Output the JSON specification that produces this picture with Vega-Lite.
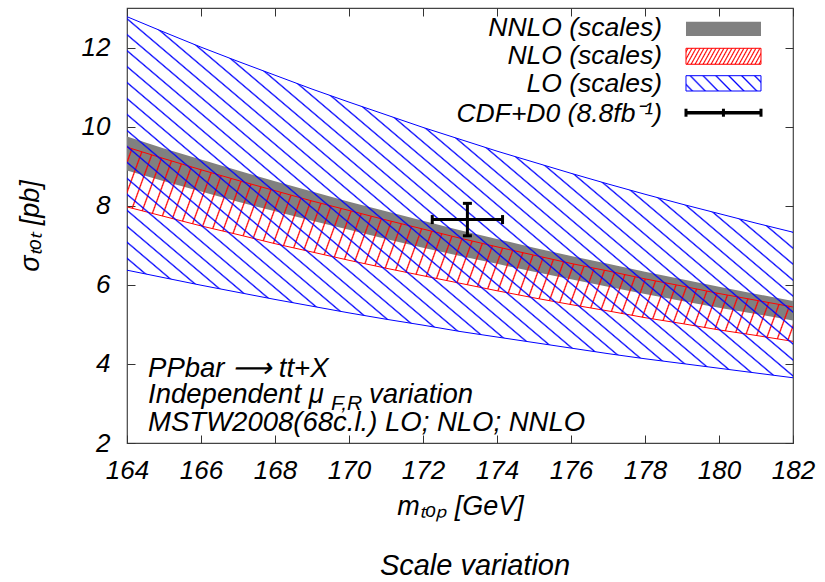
{
  "$schema": "https://vega.github.io/schema/vega-lite/v6.json",
  "width": 666,
  "height": 435,
  "autosize": {"type": "none"},
  "padding": {"left": 127, "top": 8, "right": 32, "bottom": 139},
  "background": "white",
  "title": {"text": "Scale variation", "orient": "bottom", "anchor": "middle", "frame": "group", "fontSize": 29, "font": "Liberation Sans", "fontStyle": "italic", "fontWeight": "normal", "color": "black", "offset": 33, "dx": 15},
  "config": {
    "font": "Liberation Sans",
    "view": {"stroke": "#444", "strokeWidth": 1.2},
    "axis": {"grid": false, "domain": false, "tickSize": -8, "tickColor": "#333", "tickWidth": 1, "labelFlush": false, "labelOverlap": false, "labelFont": "Liberation Sans", "labelFontSize": 26, "labelFontStyle": "italic", "labelColor": "black", "titleFont": "Liberation Sans", "titleFontSize": 27, "titleFontStyle": "italic", "titleFontWeight": "normal", "titleColor": "black"}
  },
  "datasets": {
    "bands": [
      {"band": "LO", "m": 164, "lo": 6.37, "hi": 12.78}, {"band": "LO", "m": 165, "lo": 6.18, "hi": 12.39}, {"band": "LO", "m": 166, "lo": 5.99, "hi": 12.01}, {"band": "LO", "m": 167, "lo": 5.81, "hi": 11.65}, {"band": "LO", "m": 168, "lo": 5.63, "hi": 11.30}, {"band": "LO", "m": 169, "lo": 5.46, "hi": 10.95}, {"band": "LO", "m": 170, "lo": 5.29, "hi": 10.62}, {"band": "LO", "m": 171, "lo": 5.13, "hi": 10.30}, {"band": "LO", "m": 172, "lo": 4.98, "hi": 9.98}, {"band": "LO", "m": 173, "lo": 4.82, "hi": 9.68}, {"band": "LO", "m": 174, "lo": 4.68, "hi": 9.38}, {"band": "LO", "m": 175, "lo": 4.54, "hi": 9.10}, {"band": "LO", "m": 176, "lo": 4.40, "hi": 8.82}, {"band": "LO", "m": 177, "lo": 4.26, "hi": 8.55}, {"band": "LO", "m": 178, "lo": 4.13, "hi": 8.29}, {"band": "LO", "m": 179, "lo": 4.01, "hi": 8.04}, {"band": "LO", "m": 180, "lo": 3.89, "hi": 7.80}, {"band": "LO", "m": 181, "lo": 3.77, "hi": 7.56}, {"band": "LO", "m": 182, "lo": 3.65, "hi": 7.33},
      {"band": "NLO", "m": 164, "lo": 7.97, "hi": 9.48}, {"band": "NLO", "m": 165, "lo": 7.73, "hi": 9.19}, {"band": "NLO", "m": 166, "lo": 7.49, "hi": 8.91}, {"band": "NLO", "m": 167, "lo": 7.27, "hi": 8.64}, {"band": "NLO", "m": 168, "lo": 7.04, "hi": 8.38}, {"band": "NLO", "m": 169, "lo": 6.83, "hi": 8.12}, {"band": "NLO", "m": 170, "lo": 6.62, "hi": 7.88}, {"band": "NLO", "m": 171, "lo": 6.42, "hi": 7.64}, {"band": "NLO", "m": 172, "lo": 6.23, "hi": 7.41}, {"band": "NLO", "m": 173, "lo": 6.04, "hi": 7.18}, {"band": "NLO", "m": 174, "lo": 5.85, "hi": 6.96}, {"band": "NLO", "m": 175, "lo": 5.67, "hi": 6.75}, {"band": "NLO", "m": 176, "lo": 5.50, "hi": 6.54}, {"band": "NLO", "m": 177, "lo": 5.34, "hi": 6.35}, {"band": "NLO", "m": 178, "lo": 5.17, "hi": 6.15}, {"band": "NLO", "m": 179, "lo": 5.02, "hi": 5.97}, {"band": "NLO", "m": 180, "lo": 4.86, "hi": 5.78}, {"band": "NLO", "m": 181, "lo": 4.72, "hi": 5.61}, {"band": "NLO", "m": 182, "lo": 4.57, "hi": 5.44},
      {"band": "NNLO", "m": 164, "lo": 8.89, "hi": 9.75}, {"band": "NNLO", "m": 165, "lo": 8.62, "hi": 9.45}, {"band": "NNLO", "m": 166, "lo": 8.36, "hi": 9.17}, {"band": "NNLO", "m": 167, "lo": 8.10, "hi": 8.89}, {"band": "NNLO", "m": 168, "lo": 7.86, "hi": 8.62}, {"band": "NNLO", "m": 169, "lo": 7.62, "hi": 8.36}, {"band": "NNLO", "m": 170, "lo": 7.39, "hi": 8.10}, {"band": "NNLO", "m": 171, "lo": 7.16, "hi": 7.86}, {"band": "NNLO", "m": 172, "lo": 6.94, "hi": 7.62}, {"band": "NNLO", "m": 173, "lo": 6.73, "hi": 7.38}, {"band": "NNLO", "m": 174, "lo": 6.53, "hi": 7.16}, {"band": "NNLO", "m": 175, "lo": 6.33, "hi": 6.94}, {"band": "NNLO", "m": 176, "lo": 6.14, "hi": 6.73}, {"band": "NNLO", "m": 177, "lo": 5.95, "hi": 6.53}, {"band": "NNLO", "m": 178, "lo": 5.77, "hi": 6.33}, {"band": "NNLO", "m": 179, "lo": 5.59, "hi": 6.14}, {"band": "NNLO", "m": 180, "lo": 5.42, "hi": 5.95}, {"band": "NNLO", "m": 181, "lo": 5.26, "hi": 5.77}, {"band": "NNLO", "m": 182, "lo": 5.10, "hi": 5.59}
    ],
    "cdf": [{"m": 173.2, "mlo": 172.25, "mhi": 174.15, "s": 7.65, "slo": 7.24, "shi": 8.06}]
  },
  "resolve": {"axis": {"x": "independent", "y": "independent"}},
  "layer": [
    {
      "data": {"name": "bands"},
      "transform": [{"filter": "datum.band === 'NNLO'"}],
      "mark": {"type": "area", "fill": "#808080", "opacity": 1},
      "encoding": {
        "x": {"field": "m", "type": "quantitative", "scale": {"domain": [164, 182], "nice": false, "zero": false},
              "axis": {"orient": "bottom", "values": [164, 166, 168, 170, 172, 174, 176, 178, 180, 182], "labelPadding": 22, "title": "mₜₒₚ [GeV]", "titlePadding": 10}},
        "y": {"field": "hi", "type": "quantitative", "scale": {"domain": [2, 13], "nice": false, "zero": false},
              "axis": {"orient": "left", "values": [2, 4, 6, 8, 10, 12], "labelPadding": 25, "title": "σₜₒₜ [pb]", "titlePadding": 37}},
        "y2": {"field": "lo"}
      }
    },
    {
      "data": {"name": "bands"},
      "transform": [{"filter": "datum.band === 'NLO'"}],
      "mark": {"type": "area", "opacity": 1, "fill": {"gradient": "linear", "x1": 0, "y1": 0, "x2": 1.094, "y2": 0.1165, "stops": [
        {"offset": 0.0057, "color": "#f000"}, {"offset": 0.0075, "color": "#f00"}, {"offset": 0.0093, "color": "#f000"},
        {"offset": 0.0206, "color": "#f000"}, {"offset": 0.0224, "color": "#f00"}, {"offset": 0.0242, "color": "#f000"},
        {"offset": 0.0355, "color": "#f000"}, {"offset": 0.0373, "color": "#f00"}, {"offset": 0.0391, "color": "#f000"},
        {"offset": 0.0504, "color": "#f000"}, {"offset": 0.0522, "color": "#f00"}, {"offset": 0.0540, "color": "#f000"},
        {"offset": 0.0654, "color": "#f000"}, {"offset": 0.0672, "color": "#f00"}, {"offset": 0.0690, "color": "#f000"},
        {"offset": 0.0803, "color": "#f000"}, {"offset": 0.0821, "color": "#f00"}, {"offset": 0.0839, "color": "#f000"},
        {"offset": 0.0952, "color": "#f000"}, {"offset": 0.0970, "color": "#f00"}, {"offset": 0.0988, "color": "#f000"},
        {"offset": 0.1101, "color": "#f000"}, {"offset": 0.1119, "color": "#f00"}, {"offset": 0.1137, "color": "#f000"},
        {"offset": 0.1251, "color": "#f000"}, {"offset": 0.1269, "color": "#f00"}, {"offset": 0.1287, "color": "#f000"},
        {"offset": 0.1400, "color": "#f000"}, {"offset": 0.1418, "color": "#f00"}, {"offset": 0.1436, "color": "#f000"},
        {"offset": 0.1549, "color": "#f000"}, {"offset": 0.1567, "color": "#f00"}, {"offset": 0.1585, "color": "#f000"},
        {"offset": 0.1698, "color": "#f000"}, {"offset": 0.1716, "color": "#f00"}, {"offset": 0.1734, "color": "#f000"},
        {"offset": 0.1848, "color": "#f000"}, {"offset": 0.1866, "color": "#f00"}, {"offset": 0.1884, "color": "#f000"},
        {"offset": 0.1997, "color": "#f000"}, {"offset": 0.2015, "color": "#f00"}, {"offset": 0.2033, "color": "#f000"},
        {"offset": 0.2146, "color": "#f000"}, {"offset": 0.2164, "color": "#f00"}, {"offset": 0.2182, "color": "#f000"},
        {"offset": 0.2295, "color": "#f000"}, {"offset": 0.2313, "color": "#f00"}, {"offset": 0.2331, "color": "#f000"},
        {"offset": 0.2445, "color": "#f000"}, {"offset": 0.2463, "color": "#f00"}, {"offset": 0.2481, "color": "#f000"},
        {"offset": 0.2594, "color": "#f000"}, {"offset": 0.2612, "color": "#f00"}, {"offset": 0.2630, "color": "#f000"},
        {"offset": 0.2743, "color": "#f000"}, {"offset": 0.2761, "color": "#f00"}, {"offset": 0.2779, "color": "#f000"},
        {"offset": 0.2892, "color": "#f000"}, {"offset": 0.2910, "color": "#f00"}, {"offset": 0.2928, "color": "#f000"},
        {"offset": 0.3042, "color": "#f000"}, {"offset": 0.3060, "color": "#f00"}, {"offset": 0.3078, "color": "#f000"},
        {"offset": 0.3191, "color": "#f000"}, {"offset": 0.3209, "color": "#f00"}, {"offset": 0.3227, "color": "#f000"},
        {"offset": 0.3340, "color": "#f000"}, {"offset": 0.3358, "color": "#f00"}, {"offset": 0.3376, "color": "#f000"},
        {"offset": 0.3489, "color": "#f000"}, {"offset": 0.3507, "color": "#f00"}, {"offset": 0.3525, "color": "#f000"},
        {"offset": 0.3639, "color": "#f000"}, {"offset": 0.3657, "color": "#f00"}, {"offset": 0.3675, "color": "#f000"},
        {"offset": 0.3788, "color": "#f000"}, {"offset": 0.3806, "color": "#f00"}, {"offset": 0.3824, "color": "#f000"},
        {"offset": 0.3937, "color": "#f000"}, {"offset": 0.3955, "color": "#f00"}, {"offset": 0.3973, "color": "#f000"},
        {"offset": 0.4086, "color": "#f000"}, {"offset": 0.4104, "color": "#f00"}, {"offset": 0.4122, "color": "#f000"},
        {"offset": 0.4236, "color": "#f000"}, {"offset": 0.4254, "color": "#f00"}, {"offset": 0.4272, "color": "#f000"},
        {"offset": 0.4385, "color": "#f000"}, {"offset": 0.4403, "color": "#f00"}, {"offset": 0.4421, "color": "#f000"},
        {"offset": 0.4534, "color": "#f000"}, {"offset": 0.4552, "color": "#f00"}, {"offset": 0.4570, "color": "#f000"},
        {"offset": 0.4683, "color": "#f000"}, {"offset": 0.4701, "color": "#f00"}, {"offset": 0.4719, "color": "#f000"},
        {"offset": 0.4833, "color": "#f000"}, {"offset": 0.4851, "color": "#f00"}, {"offset": 0.4869, "color": "#f000"},
        {"offset": 0.4982, "color": "#f000"}, {"offset": 0.5000, "color": "#f00"}, {"offset": 0.5018, "color": "#f000"},
        {"offset": 0.5131, "color": "#f000"}, {"offset": 0.5149, "color": "#f00"}, {"offset": 0.5167, "color": "#f000"},
        {"offset": 0.5281, "color": "#f000"}, {"offset": 0.5299, "color": "#f00"}, {"offset": 0.5317, "color": "#f000"},
        {"offset": 0.5430, "color": "#f000"}, {"offset": 0.5448, "color": "#f00"}, {"offset": 0.5466, "color": "#f000"},
        {"offset": 0.5579, "color": "#f000"}, {"offset": 0.5597, "color": "#f00"}, {"offset": 0.5615, "color": "#f000"},
        {"offset": 0.5728, "color": "#f000"}, {"offset": 0.5746, "color": "#f00"}, {"offset": 0.5764, "color": "#f000"},
        {"offset": 0.5878, "color": "#f000"}, {"offset": 0.5896, "color": "#f00"}, {"offset": 0.5914, "color": "#f000"},
        {"offset": 0.6027, "color": "#f000"}, {"offset": 0.6045, "color": "#f00"}, {"offset": 0.6063, "color": "#f000"},
        {"offset": 0.6176, "color": "#f000"}, {"offset": 0.6194, "color": "#f00"}, {"offset": 0.6212, "color": "#f000"},
        {"offset": 0.6325, "color": "#f000"}, {"offset": 0.6343, "color": "#f00"}, {"offset": 0.6361, "color": "#f000"},
        {"offset": 0.6475, "color": "#f000"}, {"offset": 0.6493, "color": "#f00"}, {"offset": 0.6511, "color": "#f000"},
        {"offset": 0.6624, "color": "#f000"}, {"offset": 0.6642, "color": "#f00"}, {"offset": 0.6660, "color": "#f000"},
        {"offset": 0.6773, "color": "#f000"}, {"offset": 0.6791, "color": "#f00"}, {"offset": 0.6809, "color": "#f000"},
        {"offset": 0.6922, "color": "#f000"}, {"offset": 0.6940, "color": "#f00"}, {"offset": 0.6958, "color": "#f000"},
        {"offset": 0.7072, "color": "#f000"}, {"offset": 0.7090, "color": "#f00"}, {"offset": 0.7108, "color": "#f000"},
        {"offset": 0.7221, "color": "#f000"}, {"offset": 0.7239, "color": "#f00"}, {"offset": 0.7257, "color": "#f000"},
        {"offset": 0.7370, "color": "#f000"}, {"offset": 0.7388, "color": "#f00"}, {"offset": 0.7406, "color": "#f000"},
        {"offset": 0.7519, "color": "#f000"}, {"offset": 0.7537, "color": "#f00"}, {"offset": 0.7555, "color": "#f000"},
        {"offset": 0.7669, "color": "#f000"}, {"offset": 0.7687, "color": "#f00"}, {"offset": 0.7705, "color": "#f000"},
        {"offset": 0.7818, "color": "#f000"}, {"offset": 0.7836, "color": "#f00"}, {"offset": 0.7854, "color": "#f000"},
        {"offset": 0.7967, "color": "#f000"}, {"offset": 0.7985, "color": "#f00"}, {"offset": 0.8003, "color": "#f000"},
        {"offset": 0.8116, "color": "#f000"}, {"offset": 0.8134, "color": "#f00"}, {"offset": 0.8152, "color": "#f000"},
        {"offset": 0.8266, "color": "#f000"}, {"offset": 0.8284, "color": "#f00"}, {"offset": 0.8302, "color": "#f000"},
        {"offset": 0.8415, "color": "#f000"}, {"offset": 0.8433, "color": "#f00"}, {"offset": 0.8451, "color": "#f000"},
        {"offset": 0.8564, "color": "#f000"}, {"offset": 0.8582, "color": "#f00"}, {"offset": 0.8600, "color": "#f000"},
        {"offset": 0.8713, "color": "#f000"}, {"offset": 0.8731, "color": "#f00"}, {"offset": 0.8749, "color": "#f000"},
        {"offset": 0.8863, "color": "#f000"}, {"offset": 0.8881, "color": "#f00"}, {"offset": 0.8899, "color": "#f000"},
        {"offset": 0.9012, "color": "#f000"}, {"offset": 0.9030, "color": "#f00"}, {"offset": 0.9048, "color": "#f000"},
        {"offset": 0.9161, "color": "#f000"}, {"offset": 0.9179, "color": "#f00"}, {"offset": 0.9197, "color": "#f000"},
        {"offset": 0.9310, "color": "#f000"}, {"offset": 0.9328, "color": "#f00"}, {"offset": 0.9346, "color": "#f000"},
        {"offset": 0.9460, "color": "#f000"}, {"offset": 0.9478, "color": "#f00"}, {"offset": 0.9496, "color": "#f000"},
        {"offset": 0.9609, "color": "#f000"}, {"offset": 0.9627, "color": "#f00"}, {"offset": 0.9645, "color": "#f000"},
        {"offset": 0.9758, "color": "#f000"}, {"offset": 0.9776, "color": "#f00"}, {"offset": 0.9794, "color": "#f000"},
        {"offset": 0.9907, "color": "#f000"}, {"offset": 0.9925, "color": "#f00"}, {"offset": 0.9943, "color": "#f000"}
      ]}},
      "encoding": {
        "x": {"field": "m", "type": "quantitative", "axis": null},
        "y": {"field": "hi", "type": "quantitative", "axis": null},
        "y2": {"field": "lo"}
      }
    },
    {
      "data": {"name": "bands"},
      "transform": [{"filter": "datum.band === 'NLO'"}],
      "mark": {"type": "line", "color": "#f00", "strokeWidth": 1},
      "encoding": {"x": {"field": "m", "type": "quantitative", "axis": null}, "y": {"field": "hi", "type": "quantitative", "axis": null}}
    },
    {
      "data": {"name": "bands"},
      "transform": [{"filter": "datum.band === 'NLO'"}],
      "mark": {"type": "line", "color": "#f00", "strokeWidth": 1},
      "encoding": {"x": {"field": "m", "type": "quantitative", "axis": null}, "y": {"field": "lo", "type": "quantitative", "axis": null}}
    },
    {
      "data": {"name": "bands"},
      "transform": [{"filter": "datum.band === 'LO'"}],
      "mark": {"type": "area", "opacity": 1, "fill": {"gradient": "linear", "x1": 1, "y1": 0, "x2": -0.164, "y2": 0.744, "stops": [
        {"offset": 0.0068, "color": "#00f0"}, {"offset": 0.0086, "color": "#00f"}, {"offset": 0.0104, "color": "#00f0"},
        {"offset": 0.0241, "color": "#00f0"}, {"offset": 0.0259, "color": "#00f"}, {"offset": 0.0277, "color": "#00f0"},
        {"offset": 0.0413, "color": "#00f0"}, {"offset": 0.0431, "color": "#00f"}, {"offset": 0.0449, "color": "#00f0"},
        {"offset": 0.0585, "color": "#00f0"}, {"offset": 0.0603, "color": "#00f"}, {"offset": 0.0621, "color": "#00f0"},
        {"offset": 0.0758, "color": "#00f0"}, {"offset": 0.0776, "color": "#00f"}, {"offset": 0.0794, "color": "#00f0"},
        {"offset": 0.0930, "color": "#00f0"}, {"offset": 0.0948, "color": "#00f"}, {"offset": 0.0966, "color": "#00f0"},
        {"offset": 0.1103, "color": "#00f0"}, {"offset": 0.1121, "color": "#00f"}, {"offset": 0.1139, "color": "#00f0"},
        {"offset": 0.1275, "color": "#00f0"}, {"offset": 0.1293, "color": "#00f"}, {"offset": 0.1311, "color": "#00f0"},
        {"offset": 0.1448, "color": "#00f0"}, {"offset": 0.1466, "color": "#00f"}, {"offset": 0.1484, "color": "#00f0"},
        {"offset": 0.1620, "color": "#00f0"}, {"offset": 0.1638, "color": "#00f"}, {"offset": 0.1656, "color": "#00f0"},
        {"offset": 0.1792, "color": "#00f0"}, {"offset": 0.1810, "color": "#00f"}, {"offset": 0.1828, "color": "#00f0"},
        {"offset": 0.1965, "color": "#00f0"}, {"offset": 0.1983, "color": "#00f"}, {"offset": 0.2001, "color": "#00f0"},
        {"offset": 0.2137, "color": "#00f0"}, {"offset": 0.2155, "color": "#00f"}, {"offset": 0.2173, "color": "#00f0"},
        {"offset": 0.2310, "color": "#00f0"}, {"offset": 0.2328, "color": "#00f"}, {"offset": 0.2346, "color": "#00f0"},
        {"offset": 0.2482, "color": "#00f0"}, {"offset": 0.2500, "color": "#00f"}, {"offset": 0.2518, "color": "#00f0"},
        {"offset": 0.2654, "color": "#00f0"}, {"offset": 0.2672, "color": "#00f"}, {"offset": 0.2690, "color": "#00f0"},
        {"offset": 0.2827, "color": "#00f0"}, {"offset": 0.2845, "color": "#00f"}, {"offset": 0.2863, "color": "#00f0"},
        {"offset": 0.2999, "color": "#00f0"}, {"offset": 0.3017, "color": "#00f"}, {"offset": 0.3035, "color": "#00f0"},
        {"offset": 0.3172, "color": "#00f0"}, {"offset": 0.3190, "color": "#00f"}, {"offset": 0.3208, "color": "#00f0"},
        {"offset": 0.3344, "color": "#00f0"}, {"offset": 0.3362, "color": "#00f"}, {"offset": 0.3380, "color": "#00f0"},
        {"offset": 0.3516, "color": "#00f0"}, {"offset": 0.3534, "color": "#00f"}, {"offset": 0.3552, "color": "#00f0"},
        {"offset": 0.3689, "color": "#00f0"}, {"offset": 0.3707, "color": "#00f"}, {"offset": 0.3725, "color": "#00f0"},
        {"offset": 0.3861, "color": "#00f0"}, {"offset": 0.3879, "color": "#00f"}, {"offset": 0.3897, "color": "#00f0"},
        {"offset": 0.4034, "color": "#00f0"}, {"offset": 0.4052, "color": "#00f"}, {"offset": 0.4070, "color": "#00f0"},
        {"offset": 0.4206, "color": "#00f0"}, {"offset": 0.4224, "color": "#00f"}, {"offset": 0.4242, "color": "#00f0"},
        {"offset": 0.4379, "color": "#00f0"}, {"offset": 0.4397, "color": "#00f"}, {"offset": 0.4415, "color": "#00f0"},
        {"offset": 0.4551, "color": "#00f0"}, {"offset": 0.4569, "color": "#00f"}, {"offset": 0.4587, "color": "#00f0"},
        {"offset": 0.4723, "color": "#00f0"}, {"offset": 0.4741, "color": "#00f"}, {"offset": 0.4759, "color": "#00f0"},
        {"offset": 0.4896, "color": "#00f0"}, {"offset": 0.4914, "color": "#00f"}, {"offset": 0.4932, "color": "#00f0"},
        {"offset": 0.5068, "color": "#00f0"}, {"offset": 0.5086, "color": "#00f"}, {"offset": 0.5104, "color": "#00f0"},
        {"offset": 0.5241, "color": "#00f0"}, {"offset": 0.5259, "color": "#00f"}, {"offset": 0.5277, "color": "#00f0"},
        {"offset": 0.5413, "color": "#00f0"}, {"offset": 0.5431, "color": "#00f"}, {"offset": 0.5449, "color": "#00f0"},
        {"offset": 0.5585, "color": "#00f0"}, {"offset": 0.5603, "color": "#00f"}, {"offset": 0.5621, "color": "#00f0"},
        {"offset": 0.5758, "color": "#00f0"}, {"offset": 0.5776, "color": "#00f"}, {"offset": 0.5794, "color": "#00f0"},
        {"offset": 0.5930, "color": "#00f0"}, {"offset": 0.5948, "color": "#00f"}, {"offset": 0.5966, "color": "#00f0"},
        {"offset": 0.6103, "color": "#00f0"}, {"offset": 0.6121, "color": "#00f"}, {"offset": 0.6139, "color": "#00f0"},
        {"offset": 0.6275, "color": "#00f0"}, {"offset": 0.6293, "color": "#00f"}, {"offset": 0.6311, "color": "#00f0"},
        {"offset": 0.6448, "color": "#00f0"}, {"offset": 0.6466, "color": "#00f"}, {"offset": 0.6484, "color": "#00f0"},
        {"offset": 0.6620, "color": "#00f0"}, {"offset": 0.6638, "color": "#00f"}, {"offset": 0.6656, "color": "#00f0"},
        {"offset": 0.6792, "color": "#00f0"}, {"offset": 0.6810, "color": "#00f"}, {"offset": 0.6828, "color": "#00f0"},
        {"offset": 0.6965, "color": "#00f0"}, {"offset": 0.6983, "color": "#00f"}, {"offset": 0.7001, "color": "#00f0"},
        {"offset": 0.7137, "color": "#00f0"}, {"offset": 0.7155, "color": "#00f"}, {"offset": 0.7173, "color": "#00f0"},
        {"offset": 0.7310, "color": "#00f0"}, {"offset": 0.7328, "color": "#00f"}, {"offset": 0.7346, "color": "#00f0"},
        {"offset": 0.7482, "color": "#00f0"}, {"offset": 0.7500, "color": "#00f"}, {"offset": 0.7518, "color": "#00f0"},
        {"offset": 0.7654, "color": "#00f0"}, {"offset": 0.7672, "color": "#00f"}, {"offset": 0.7690, "color": "#00f0"},
        {"offset": 0.7827, "color": "#00f0"}, {"offset": 0.7845, "color": "#00f"}, {"offset": 0.7863, "color": "#00f0"},
        {"offset": 0.7999, "color": "#00f0"}, {"offset": 0.8017, "color": "#00f"}, {"offset": 0.8035, "color": "#00f0"},
        {"offset": 0.8172, "color": "#00f0"}, {"offset": 0.8190, "color": "#00f"}, {"offset": 0.8208, "color": "#00f0"},
        {"offset": 0.8344, "color": "#00f0"}, {"offset": 0.8362, "color": "#00f"}, {"offset": 0.8380, "color": "#00f0"},
        {"offset": 0.8516, "color": "#00f0"}, {"offset": 0.8534, "color": "#00f"}, {"offset": 0.8552, "color": "#00f0"},
        {"offset": 0.8689, "color": "#00f0"}, {"offset": 0.8707, "color": "#00f"}, {"offset": 0.8725, "color": "#00f0"},
        {"offset": 0.8861, "color": "#00f0"}, {"offset": 0.8879, "color": "#00f"}, {"offset": 0.8897, "color": "#00f0"},
        {"offset": 0.9034, "color": "#00f0"}, {"offset": 0.9052, "color": "#00f"}, {"offset": 0.9070, "color": "#00f0"},
        {"offset": 0.9206, "color": "#00f0"}, {"offset": 0.9224, "color": "#00f"}, {"offset": 0.9242, "color": "#00f0"},
        {"offset": 0.9379, "color": "#00f0"}, {"offset": 0.9397, "color": "#00f"}, {"offset": 0.9415, "color": "#00f0"},
        {"offset": 0.9551, "color": "#00f0"}, {"offset": 0.9569, "color": "#00f"}, {"offset": 0.9587, "color": "#00f0"},
        {"offset": 0.9723, "color": "#00f0"}, {"offset": 0.9741, "color": "#00f"}, {"offset": 0.9759, "color": "#00f0"},
        {"offset": 0.9896, "color": "#00f0"}, {"offset": 0.9914, "color": "#00f"}, {"offset": 0.9932, "color": "#00f0"}
      ]}},
      "encoding": {
        "x": {"field": "m", "type": "quantitative", "axis": {"orient": "top", "labels": false, "title": null, "values": [164, 166, 168, 170, 172, 174, 176, 178, 180, 182]}},
        "y": {"field": "hi", "type": "quantitative", "axis": {"orient": "right", "labels": false, "title": null, "values": [2, 4, 6, 8, 10, 12]}},
        "y2": {"field": "lo"}
      }
    },
    {
      "data": {"name": "bands"},
      "transform": [{"filter": "datum.band === 'LO'"}],
      "mark": {"type": "line", "color": "#00f", "strokeWidth": 1},
      "encoding": {"x": {"field": "m", "type": "quantitative", "axis": null}, "y": {"field": "hi", "type": "quantitative", "axis": null}}
    },
    {
      "data": {"name": "bands"},
      "transform": [{"filter": "datum.band === 'LO'"}],
      "mark": {"type": "line", "color": "#00f", "strokeWidth": 1},
      "encoding": {"x": {"field": "m", "type": "quantitative", "axis": null}, "y": {"field": "lo", "type": "quantitative", "axis": null}}
    },
    {
      "data": {"name": "cdf"},
      "mark": {"type": "rule", "color": "black", "strokeWidth": 3},
      "encoding": {"x": {"field": "mlo", "type": "quantitative", "axis": null}, "x2": {"field": "mhi"}, "y": {"field": "s", "type": "quantitative", "axis": null}}
    },
    {
      "data": {"name": "cdf"},
      "mark": {"type": "rule", "color": "black", "strokeWidth": 3},
      "encoding": {"x": {"field": "m", "type": "quantitative", "axis": null}, "y": {"field": "slo", "type": "quantitative", "axis": null}, "y2": {"field": "shi"}}
    },
    {
      "data": {"name": "cdf"},
      "mark": {"type": "tick", "orient": "vertical", "size": 9, "thickness": 3, "color": "black", "opacity": 1},
      "encoding": {"x": {"field": "mlo", "type": "quantitative", "axis": null}, "y": {"field": "s", "type": "quantitative", "axis": null}}
    },
    {
      "data": {"name": "cdf"},
      "mark": {"type": "tick", "orient": "vertical", "size": 9, "thickness": 3, "color": "black", "opacity": 1},
      "encoding": {"x": {"field": "mhi", "type": "quantitative", "axis": null}, "y": {"field": "s", "type": "quantitative", "axis": null}}
    },
    {
      "data": {"name": "cdf"},
      "mark": {"type": "tick", "orient": "horizontal", "size": 9, "thickness": 3, "color": "black", "opacity": 1},
      "encoding": {"x": {"field": "m", "type": "quantitative", "axis": null}, "y": {"field": "slo", "type": "quantitative", "axis": null}}
    },
    {
      "data": {"name": "cdf"},
      "mark": {"type": "tick", "orient": "horizontal", "size": 9, "thickness": 3, "color": "black", "opacity": 1},
      "encoding": {"x": {"field": "m", "type": "quantitative", "axis": null}, "y": {"field": "shi", "type": "quantitative", "axis": null}}
    },
    {
      "data": {"values": [{}]},
      "mark": {"type": "rect", "fill": "#808080", "opacity": 1},
      "encoding": {"x": {"datum": 179.108, "axis": null}, "x2": {"datum": 181.135}, "y": {"datum": 12.654, "axis": null}, "y2": {"datum": 12.292}}
    },
    {
      "data": {"values": [{}]},
      "mark": {"type": "rect", "stroke": "#f00", "strokeWidth": 1, "opacity": 1, "fill": {"gradient": "linear", "x1": 0, "y1": 0, "x2": 1.103, "y2": 0.1307, "stops": [
        {"offset": 0.0088, "color": "#f000"}, {"offset": 0.0238, "color": "#f00"}, {"offset": 0.0388, "color": "#f000"},
        {"offset": 0.0564, "color": "#f000"}, {"offset": 0.0714, "color": "#f00"}, {"offset": 0.0864, "color": "#f000"},
        {"offset": 0.1040, "color": "#f000"}, {"offset": 0.1190, "color": "#f00"}, {"offset": 0.1340, "color": "#f000"},
        {"offset": 0.1517, "color": "#f000"}, {"offset": 0.1667, "color": "#f00"}, {"offset": 0.1817, "color": "#f000"},
        {"offset": 0.1993, "color": "#f000"}, {"offset": 0.2143, "color": "#f00"}, {"offset": 0.2293, "color": "#f000"},
        {"offset": 0.2469, "color": "#f000"}, {"offset": 0.2619, "color": "#f00"}, {"offset": 0.2769, "color": "#f000"},
        {"offset": 0.2945, "color": "#f000"}, {"offset": 0.3095, "color": "#f00"}, {"offset": 0.3245, "color": "#f000"},
        {"offset": 0.3421, "color": "#f000"}, {"offset": 0.3571, "color": "#f00"}, {"offset": 0.3721, "color": "#f000"},
        {"offset": 0.3898, "color": "#f000"}, {"offset": 0.4048, "color": "#f00"}, {"offset": 0.4198, "color": "#f000"},
        {"offset": 0.4374, "color": "#f000"}, {"offset": 0.4524, "color": "#f00"}, {"offset": 0.4674, "color": "#f000"},
        {"offset": 0.4850, "color": "#f000"}, {"offset": 0.5000, "color": "#f00"}, {"offset": 0.5150, "color": "#f000"},
        {"offset": 0.5326, "color": "#f000"}, {"offset": 0.5476, "color": "#f00"}, {"offset": 0.5626, "color": "#f000"},
        {"offset": 0.5802, "color": "#f000"}, {"offset": 0.5952, "color": "#f00"}, {"offset": 0.6102, "color": "#f000"},
        {"offset": 0.6279, "color": "#f000"}, {"offset": 0.6429, "color": "#f00"}, {"offset": 0.6579, "color": "#f000"},
        {"offset": 0.6755, "color": "#f000"}, {"offset": 0.6905, "color": "#f00"}, {"offset": 0.7055, "color": "#f000"},
        {"offset": 0.7231, "color": "#f000"}, {"offset": 0.7381, "color": "#f00"}, {"offset": 0.7531, "color": "#f000"},
        {"offset": 0.7707, "color": "#f000"}, {"offset": 0.7857, "color": "#f00"}, {"offset": 0.8007, "color": "#f000"},
        {"offset": 0.8183, "color": "#f000"}, {"offset": 0.8333, "color": "#f00"}, {"offset": 0.8483, "color": "#f000"},
        {"offset": 0.8660, "color": "#f000"}, {"offset": 0.8810, "color": "#f00"}, {"offset": 0.8960, "color": "#f000"},
        {"offset": 0.9136, "color": "#f000"}, {"offset": 0.9286, "color": "#f00"}, {"offset": 0.9436, "color": "#f000"},
        {"offset": 0.9612, "color": "#f000"}, {"offset": 0.9762, "color": "#f00"}, {"offset": 0.9912, "color": "#f000"}
      ]}},
      "encoding": {"x": {"datum": 179.108, "axis": null}, "x2": {"datum": 181.135}, "y": {"datum": 11.981, "axis": null}, "y2": {"datum": 11.577}}
    },
    {
      "data": {"values": [{}]},
      "mark": {"type": "rect", "stroke": "#00f", "strokeWidth": 1, "opacity": 1, "fill": {"gradient": "linear", "x1": 1, "y1": 0, "x2": -0.154, "y2": 0.2308, "stops": [
        {"offset": 0.0514, "color": "#00f0"}, {"offset": 0.0714, "color": "#00f"}, {"offset": 0.0914, "color": "#00f0"},
        {"offset": 0.1943, "color": "#00f0"}, {"offset": 0.2143, "color": "#00f"}, {"offset": 0.2343, "color": "#00f0"},
        {"offset": 0.3371, "color": "#00f0"}, {"offset": 0.3571, "color": "#00f"}, {"offset": 0.3771, "color": "#00f0"},
        {"offset": 0.4800, "color": "#00f0"}, {"offset": 0.5000, "color": "#00f"}, {"offset": 0.5200, "color": "#00f0"},
        {"offset": 0.6229, "color": "#00f0"}, {"offset": 0.6429, "color": "#00f"}, {"offset": 0.6629, "color": "#00f0"},
        {"offset": 0.7657, "color": "#00f0"}, {"offset": 0.7857, "color": "#00f"}, {"offset": 0.8057, "color": "#00f0"},
        {"offset": 0.9086, "color": "#00f0"}, {"offset": 0.9286, "color": "#00f"}, {"offset": 0.9486, "color": "#00f0"}
      ]}},
      "encoding": {"x": {"datum": 179.108, "axis": null}, "x2": {"datum": 181.135}, "y": {"datum": 11.288, "axis": null}, "y2": {"datum": 10.901}}
    },
    {
      "data": {"values": [{}]},
      "mark": {"type": "rule", "color": "black", "strokeWidth": 3.5},
      "encoding": {"x": {"datum": 179.108, "axis": null}, "x2": {"datum": 181.135}, "y": {"datum": 10.352, "axis": null}}
    },
    {
      "data": {"values": [{}]},
      "mark": {"type": "tick", "orient": "vertical", "size": 8, "thickness": 3, "color": "black", "opacity": 1},
      "encoding": {"x": {"datum": 179.108, "axis": null}, "y": {"datum": 10.352, "axis": null}}
    },
    {
      "data": {"values": [{}]},
      "mark": {"type": "tick", "orient": "vertical", "size": 8, "thickness": 3, "color": "black", "opacity": 1},
      "encoding": {"x": {"datum": 180.12, "axis": null}, "y": {"datum": 10.352, "axis": null}}
    },
    {
      "data": {"values": [{}]},
      "mark": {"type": "tick", "orient": "vertical", "size": 8, "thickness": 3, "color": "black", "opacity": 1},
      "encoding": {"x": {"datum": 181.135, "axis": null}, "y": {"datum": 10.352, "axis": null}}
    },
    {
      "data": {"values": [{}]},
      "mark": {"type": "text", "text": "NNLO (scales)", "align": "right", "baseline": "middle", "fontSize": 26.5, "fontStyle": "italic", "font": "Liberation Sans", "color": "black"},
      "encoding": {"x": {"datum": 178.46, "axis": null}, "y": {"datum": 12.482, "axis": null}}
    },
    {
      "data": {"values": [{}]},
      "mark": {"type": "text", "text": "NLO (scales)", "align": "right", "baseline": "middle", "fontSize": 26.5, "fontStyle": "italic", "font": "Liberation Sans", "color": "black"},
      "encoding": {"x": {"datum": 178.46, "axis": null}, "y": {"datum": 11.774, "axis": null}}
    },
    {
      "data": {"values": [{}]},
      "mark": {"type": "text", "text": "LO (scales)", "align": "right", "baseline": "middle", "fontSize": 26.5, "fontStyle": "italic", "font": "Liberation Sans", "color": "black"},
      "encoding": {"x": {"datum": 178.46, "axis": null}, "y": {"datum": 11.066, "axis": null}}
    },
    {
      "data": {"values": [{}]},
      "mark": {"type": "text", "text": "CDF+D0 (8.8fb⁻¹)", "align": "right", "baseline": "middle", "fontSize": 26.5, "fontStyle": "italic", "font": "Liberation Sans", "color": "black"},
      "encoding": {"x": {"datum": 178.46, "axis": null}, "y": {"datum": 10.332, "axis": null}}
    },
    {
      "data": {"values": [{}]},
      "mark": {"type": "text", "text": "PPbar ⟶ tt+X", "align": "left", "baseline": "alphabetic", "fontSize": 27.5, "fontStyle": "italic", "font": "Liberation Sans", "color": "black"},
      "encoding": {"x": {"datum": 164.57, "axis": null}, "y": {"datum": 3.661, "axis": null}}
    },
    {
      "data": {"values": [{}]},
      "mark": {"type": "text", "text": "Independent μ", "align": "left", "baseline": "alphabetic", "fontSize": 27.5, "fontStyle": "italic", "font": "Liberation Sans", "color": "black"},
      "encoding": {"x": {"datum": 164.57, "axis": null}, "y": {"datum": 3.004, "axis": null}}
    },
    {
      "data": {"values": [{}]},
      "mark": {"type": "text", "text": "F,R", "align": "left", "baseline": "alphabetic", "fontSize": 21, "fontStyle": "italic", "font": "Liberation Sans", "color": "black", "dx": 183, "dy": 7},
      "encoding": {"x": {"datum": 164.57, "axis": null}, "y": {"datum": 3.004, "axis": null}}
    },
    {
      "data": {"values": [{}]},
      "mark": {"type": "text", "text": "variation", "align": "left", "baseline": "alphabetic", "fontSize": 27.5, "fontStyle": "italic", "font": "Liberation Sans", "color": "black", "dx": 221},
      "encoding": {"x": {"datum": 164.57, "axis": null}, "y": {"datum": 3.004, "axis": null}}
    },
    {
      "data": {"values": [{}]},
      "mark": {"type": "text", "text": "MSTW2008(68c.l.) LO; NLO; NNLO", "align": "left", "baseline": "alphabetic", "fontSize": 27.5, "fontStyle": "italic", "font": "Liberation Sans", "color": "black"},
      "encoding": {"x": {"datum": 164.57, "axis": null}, "y": {"datum": 2.311, "axis": null}}
    }
  ]
}
